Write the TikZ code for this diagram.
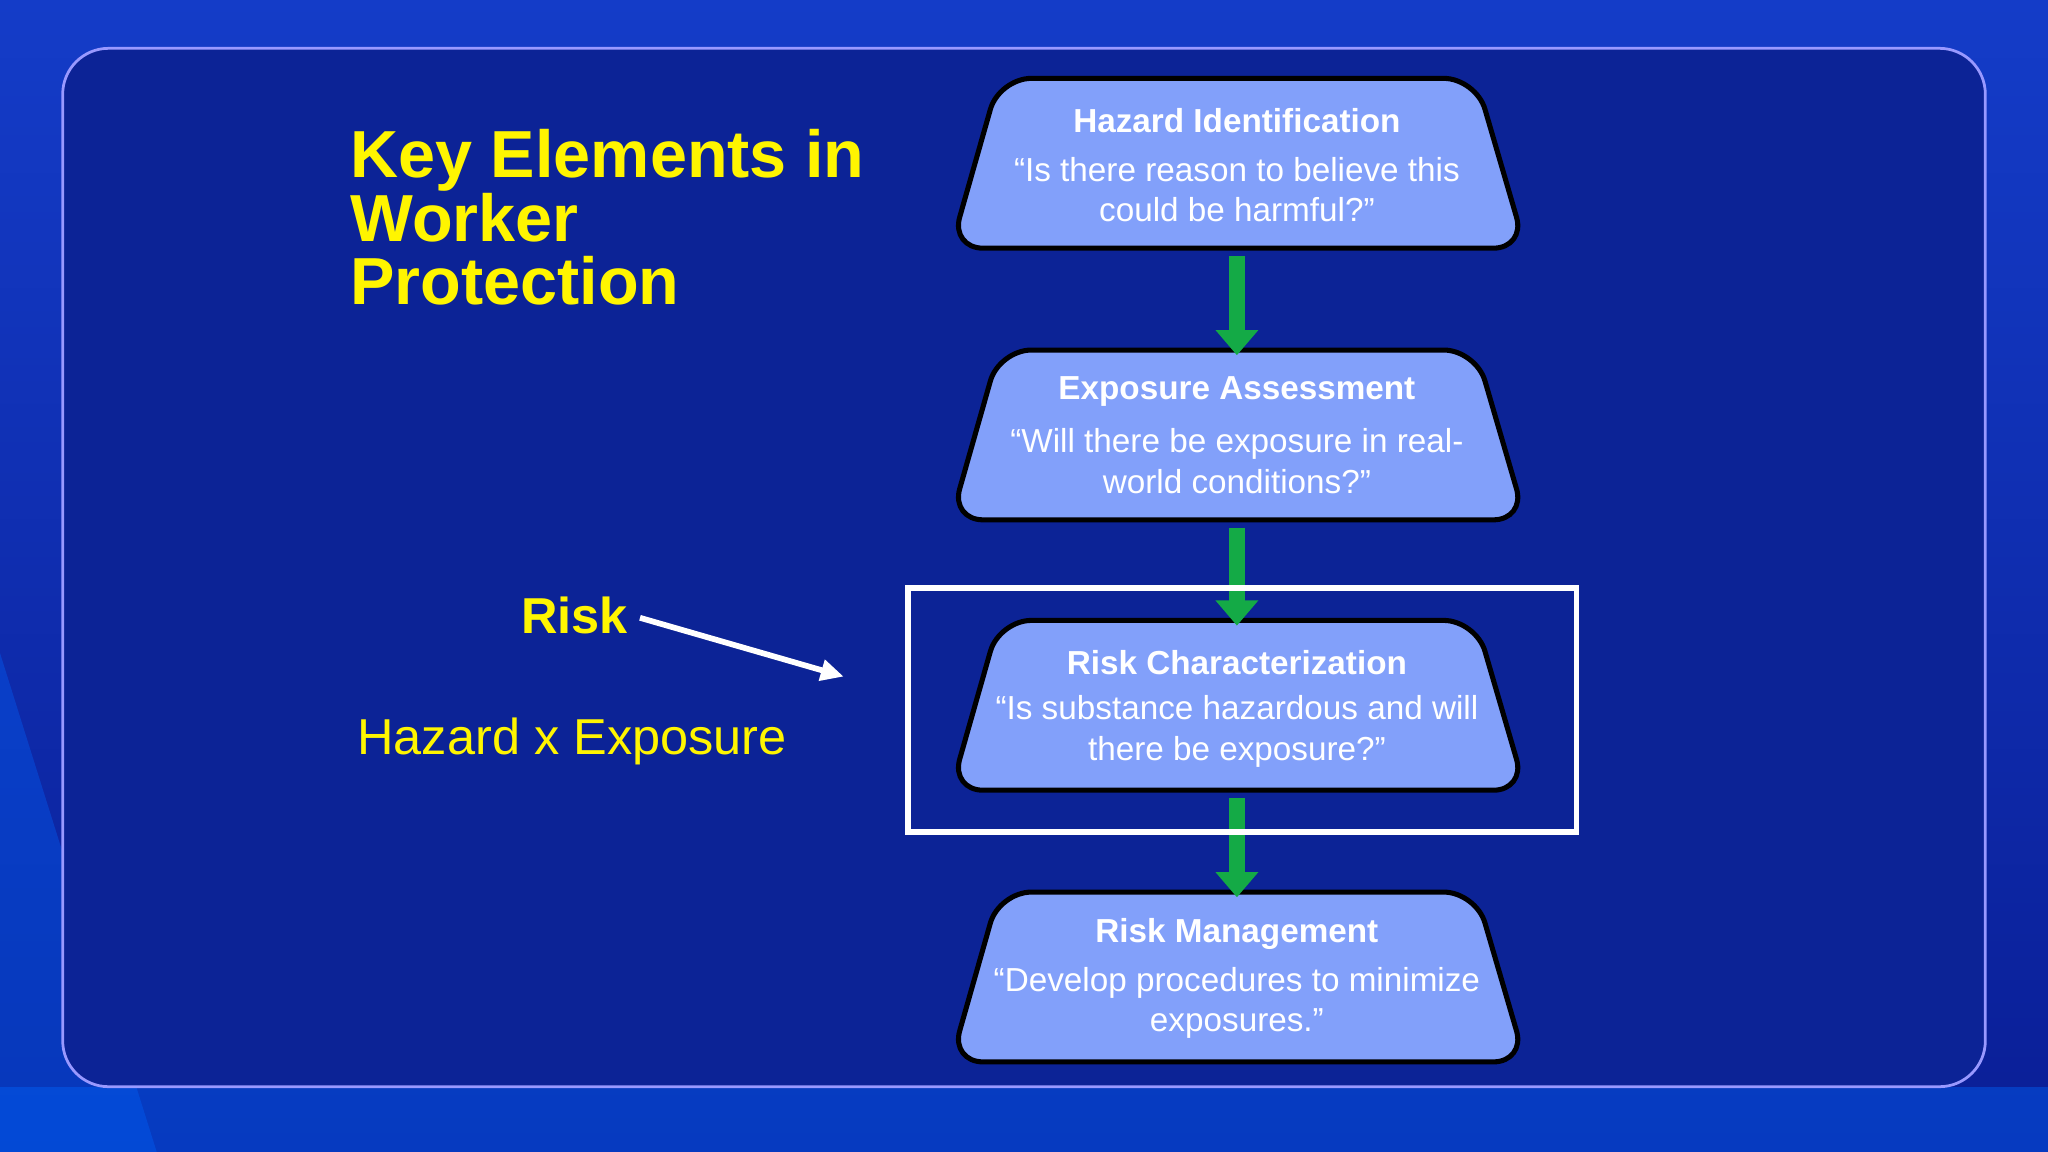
\documentclass[tikz,border=0pt]{standalone}
\usepackage{fontspec}
\setmainfont{Liberation Sans}
\usetikzlibrary{arrows.meta}
\definecolor{bgA}{RGB}{20,60,200}
\definecolor{bgB}{RGB}{10,30,150}
\definecolor{panel}{RGB}{12,35,150}
\definecolor{boxfill}{RGB}{130,160,250}
\definecolor{grn}{RGB}{20,170,70}
\definecolor{yel}{RGB}{255,245,0}
\tikzset{
 trap/.style={draw=black,line width=2.2pt,fill=boxfill,rounded corners=14pt},
 garrow/.style={-{Triangle[length=11pt,width=18pt]},line width=7pt,draw=grn},
 btitle/.style={text=white,font=\fontsize{14.5}{17}\selectfont\bfseries},
 btext/.style={text=white,font=\fontsize{14.5}{17.6}\selectfont,align=center},
}
\newcommand{\trapbox}[5]{%
 \draw[trap] (765,#1) -- (1130,#1) -- (1168,#1+130) -- (728,#1+130) -- cycle;
 \node[btitle] (#2) at (947,#1+32) {#3};
 \node[btext] (#2t) at (947,#1+85) {#4\\#5};
 \coordinate (#2top) at (947,#1+4);
 \coordinate (#2bot) at (947,#1+136);
}
\begin{document}
\begin{tikzpicture}[x=0.02cm,y=-0.02cm]
\useasboundingbox (0,0) rectangle (1568,882);
\shade[top color=bgA,bottom color=bgB] (0,0) rectangle (1568,882);
\fill[blue!60!cyan,opacity=0.35] (0,882) -- (0,500) -- (120,882) -- cycle;
\fill[blue!60!cyan,opacity=0.4] (0,832) rectangle (1568,882);
\draw[fill=panel,draw=blue!40!white,line width=1.2pt,rounded corners=20pt] (48,37) rectangle (1520,832);
\node[anchor=north west,text=yel,font=\fontsize{29}{27.5}\selectfont\bfseries,align=left,inner sep=0pt] (title) at (268,99) {Key Elements in\\Worker\\Protection};
\trapbox{60}{h}{Hazard Identification}{“Is there reason to believe this}{could be harmful?”}
\trapbox{268}{e}{Exposure Assessment}{“Will there be exposure in real-}{world conditions?”}
\trapbox{475}{r}{Risk Characterization}{“Is substance hazardous and will}{there be exposure?”}
\trapbox{683}{m}{Risk Management}{“Develop procedures to minimize}{exposures.”}
\draw[garrow] (hbot) -- (etop);
\draw[garrow] (ebot) -- (rtop);
\draw[garrow] (rbot) -- (mtop);
\draw[white,line width=2.5pt] (695,450) rectangle (1207,637);
\node[text=yel,font=\fontsize{22}{26}\selectfont\bfseries] (risk) at (440,471) {Risk};
\coordinate (rend) at (646,518);
\draw[white,line width=2.5pt,-{Triangle[length=10pt,width=9pt]}] (490,473) -- (rend);
\node[text=yel,font=\fontsize{22}{26}\selectfont] (hx) at (438,568) {Hazard x Exposure};
\end{tikzpicture}
\end{document}
